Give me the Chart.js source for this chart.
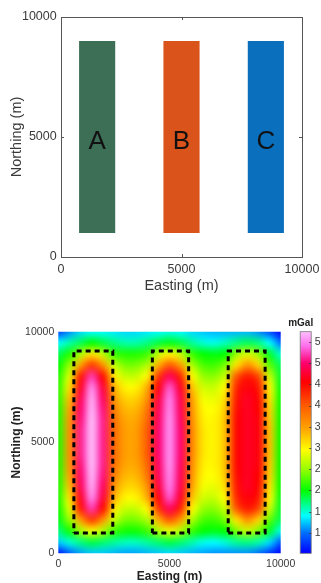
<!doctype html>
<html lang="en">

<head>
  <meta charset="utf-8">
  <title>Prism model and gravity anomaly</title>

  <!-- chart js -->
  <script src="https://cdn.jsdelivr.net/npm/chart.js@4.4.0/dist/chart.umd.min.js"></script>

  <style type="text/css">
    html,
    body {
      margin: 0;
      padding: 0;
      background: #fff;
      overflow: hidden;
    }

    .wrap {
      position: relative;
      width: 321px;
      height: 583px;
    }

    #modelChart {
      position: absolute;
      left: 0;
      top: 0;
    }

    #gravityChart {
      position: absolute;
      left: 0;
      top: 300px;
    }
  </style>

  <script>
    // axes
    const axisTicks = [0, 5000, 10000];

    // top panel: the three prisms (plan view)
    const prismNames = ['A', 'B', 'C'];
    const prismWest = [750, 4250, 7750];
    const prismEast = [2250, 5750, 9250];
    const prismSouth = [1000, 1000, 1000];
    const prismNorth = [9000, 9000, 9000];
    const prismColors = ['#3d6f57', '#d9531a', '#0a6fbd'];

    // bottom panel: dashed outlines
    const outlineWest = [700, 4230, 7640];
    const outlineEast = [2450, 5860, 9300];
    const outlineSouth = [920, 920, 920];
    const outlineNorth = [9130, 9130, 9130];

    // gravity grid (mGal), rows from north (10000) to south (0)
    const gridEasting = [0, 500, 1000, 1500, 2000, 2500, 3000, 3500, 4000, 4500, 5000,
      5500, 6000, 6500, 7000, 7500, 8000, 8500, 9000, 9500, 10000];
    const gridNorthing = [10000, 9500, 9000, 8500, 8000, 7500, 7000, 6500, 6000, 5500, 5000,
      4500, 4000, 3500, 3000, 2500, 2000, 1500, 1000, 500, 0];
    const mgal = [
      [8, 11, 13, 14, 14, 13.5, 13, 13, 13.5, 14, 14.5, 14, 13, 12.5, 12, 12, 12, 12, 11, 8.5, 5.5],
      [14, 16, 18, 20, 18.5, 17, 16, 16, 17, 18.5, 19.5, 18.5, 16.5, 15, 14.5, 15.5, 17, 18, 17, 14, 10],
      [18, 21, 26, 31, 27, 22, 21, 21, 22, 27, 30, 27, 22, 20, 19.5, 20, 25, 28, 25, 19, 15],
      [20, 25, 35, 42, 36, 27, 24, 24, 26, 34, 40, 35, 26, 22.5, 22, 24, 31, 36, 32, 23, 18],
      [21, 28, 44, 52, 45, 31, 27, 27, 30, 42, 49, 43, 30, 25, 24.5, 27, 40, 44, 41, 27, 19],
      [21.5, 31, 47, 55, 48, 34, 30, 30, 34, 46, 53, 47, 33, 27.5, 27, 30, 43, 46, 44, 30, 19.5],
      [21.5, 33, 49, 56.5, 49.5, 36, 32, 32, 36, 48, 54.5, 48.5, 35, 29, 28.5, 31.5, 44, 47, 45, 31, 20],
      [21, 34.5, 50, 57, 50.5, 37.5, 33.5, 33.5, 38, 49, 55, 49, 36, 30, 29.5, 32.5, 44.5, 47, 45.5, 32, 20],
      [21, 35.5, 50.5, 57.5, 51, 38.5, 34.5, 34.5, 39, 49.5, 55.5, 49.5, 36.5, 30.5, 30, 33, 45, 47, 46, 32.5, 20],
      [21, 36, 51, 57.5, 51, 39, 35, 35, 40, 50, 55.5, 50, 37, 31, 30, 33, 45, 47, 46, 33, 20],
      [21, 36, 51, 57.5, 51, 39, 35, 35, 40, 50, 55.5, 50, 37, 31, 30, 33, 45, 47, 46, 33, 20],
      [21, 36, 51, 57.5, 51, 39, 35, 35, 40, 50, 55.5, 50, 37, 31, 30, 33, 45, 47, 46, 33, 20],
      [21, 35.5, 50.5, 57.5, 51, 38.5, 34.5, 34.5, 39, 49.5, 55.5, 49.5, 36.5, 30.5, 30, 33, 45, 47, 46, 32.5, 20],
      [21, 34.5, 50, 57, 50.5, 37.5, 33.5, 33.5, 38, 49, 55, 49, 36, 30, 29.5, 32.5, 44.5, 47, 45.5, 32, 20],
      [21, 33, 49, 56.5, 49.5, 36, 32, 32, 36, 48, 54.5, 48.5, 35, 29, 28.5, 31.5, 44, 47, 45, 31, 20],
      [21, 31, 47, 55, 48, 34, 30, 30, 34, 46, 53, 47, 33, 27.5, 27, 30, 43, 46, 44, 30, 19.5],
      [20.5, 28, 44, 52, 45, 31, 27, 27, 30, 42, 49, 43, 30, 25, 24.5, 27, 40, 44, 41, 27, 19],
      [19.5, 25, 35, 42, 36, 27, 24, 24, 26, 34, 40, 35, 26, 22.5, 22, 24, 31, 36, 32, 23, 18],
      [17, 20.5, 25.5, 29, 26, 22, 20.5, 20.5, 22, 26, 28.5, 26, 22, 20, 19.5, 20, 24, 27, 24, 19, 14.5],
      [12.5, 15, 17, 18.5, 17.5, 16.5, 15.5, 15.5, 16.5, 17.5, 18.5, 17.5, 16, 14.5, 14, 15, 16.5, 17, 16, 13, 9],
      [6, 9.5, 11.5, 12.5, 12.5, 12, 11.5, 11.5, 12, 12.5, 13, 12.5, 12, 11.5, 11, 11, 11, 11, 10, 7.5, 5]
    ];

    // colour bar
    const cbTicks = [10, 15, 20, 25, 30, 35, 40, 45, 50, 55];
    const cbMin = 5.2;
    const cbMax = 57.4;
    const cmapStops = [5.2, 10, 14, 20, 25, 29.5, 34.5, 40, 45.5, 50, 54, 57.4];
    const cmapRGB = [[0, 0, 255], [0, 110, 255], [0, 255, 255], [0, 255, 0], [150, 255, 0], [255, 255, 0],
      [255, 165, 0], [255, 90, 0], [255, 0, 0], [255, 0, 110], [255, 110, 235], [255, 190, 255]];

    const tickColor = '#3a3a3a';
    Chart.defaults.font.family = '"Liberation Sans", Arial, sans-serif';

    function colourFor(v) {
      if (v <= cmapStops[0]) return cmapRGB[0];
      for (let i = 1; i < cmapStops.length; i++) {
        if (v <= cmapStops[i]) {
          const t = (v - cmapStops[i - 1]) / (cmapStops[i] - cmapStops[i - 1]);
          return cmapRGB[i].map((c, k) => Math.round(cmapRGB[i - 1][k] + (c - cmapRGB[i - 1][k]) * t));
        }
      }
      return cmapRGB[cmapRGB.length - 1];
    }

    function useTicks(list) {
      return function (scale) {
        scale.ticks = list.map(v => ({ value: v }));
      }
    }

    // fixed axis size, and no extra label padding pushed into the layout
    function fixSize(prop, size) {
      return function (scale) {
        scale[prop] = size;
        scale.paddingTop = 0;
        scale.paddingBottom = 0;
        scale.paddingLeft = 0;
        scale.paddingRight = 0;
      }
    }

    const plainLabel = v => String(v);

    // box and inward ticks round the top axes
    const axesBox = {
      id: 'axesBox',
      afterDraw(chart) {
        const { ctx, chartArea: a, scales: { x, y } } = chart;
        ctx.save();
        ctx.strokeStyle = '#555';
        ctx.lineWidth = 1;
        ctx.strokeRect(Math.round(a.left) + 0.5, Math.round(a.top) + 0.5,
          Math.round(a.right - a.left), Math.round(a.bottom - a.top));
        ctx.beginPath();
        axisTicks.forEach(v => {
          const px = Math.round(x.getPixelForValue(v)) + 0.5;
          const py = Math.round(y.getPixelForValue(v)) + 0.5;
          ctx.moveTo(px, a.top); ctx.lineTo(px, a.top + 3);
          ctx.moveTo(px, a.bottom); ctx.lineTo(px, a.bottom - 3);
          ctx.moveTo(a.left, py); ctx.lineTo(a.left + 3, py);
          ctx.moveTo(a.right, py); ctx.lineTo(a.right - 3, py);
        });
        ctx.stroke();
        ctx.restore();
      }
    };

    // letters in the prisms
    const prismLetters = {
      id: 'prismLetters',
      afterDatasetsDraw(chart) {
        const { ctx, scales: { y } } = chart;
        const meta = chart.getDatasetMeta(0);
        ctx.save();
        ctx.fillStyle = '#111';
        ctx.font = '26px "Liberation Sans", Arial, sans-serif';
        ctx.textAlign = 'center';
        ctx.textBaseline = 'middle';
        meta.data.forEach((bar, i) => {
          ctx.fillText(prismNames[i], bar.x, y.getPixelForValue((prismSouth[i] + prismNorth[i]) / 2) + 5);
        });
        ctx.restore();
      }
    };

    // gravity grid image, placed with the chart scales
    const heatLayer = {
      id: 'heatLayer',
      beforeDatasetsDraw(chart) {
        const { ctx, chartArea: a, scales: { x, y } } = chart;
        const cols = gridEasting.length;
        const rows = gridNorthing.length;
        const off = document.createElement('canvas');
        off.width = cols;
        off.height = rows;
        const octx = off.getContext('2d');
        const img = octx.createImageData(cols, rows);
        mgal.forEach((row, r) => {
          row.forEach((v, c) => {
            const rgb = colourFor(v);
            const k = (r * cols + c) * 4;
            img.data[k] = rgb[0];
            img.data[k + 1] = rgb[1];
            img.data[k + 2] = rgb[2];
            img.data[k + 3] = 255;
          });
        });
        octx.putImageData(img, 0, 0);

        const halfX = (gridEasting[1] - gridEasting[0]) / 2;
        const halfY = (gridNorthing[0] - gridNorthing[1]) / 2;
        const left = x.getPixelForValue(gridEasting[0] - halfX);
        const right = x.getPixelForValue(gridEasting[cols - 1] + halfX);
        const top = y.getPixelForValue(gridNorthing[0] + halfY);
        const bottom = y.getPixelForValue(gridNorthing[rows - 1] - halfY);

        ctx.save();
        ctx.beginPath();
        ctx.rect(a.left, a.top, a.right - a.left, a.bottom - a.top);
        ctx.clip();
        ctx.imageSmoothingEnabled = true;
        ctx.imageSmoothingQuality = 'high';
        ctx.drawImage(off, left, top, right - left, bottom - top);
        ctx.restore();
      },
      afterDraw(chart) {
        // colour bar next to the map
        const { ctx, chartArea: a, scales: { cb } } = chart;
        const barLeft = a.right + 19.5;
        const barWidth = 11;
        const yTop = cb.getPixelForValue(cbMax);
        const yBottom = cb.getPixelForValue(cbMin);
        const grad = ctx.createLinearGradient(0, yBottom, 0, yTop);
        cmapStops.forEach((v, i) => {
          const f = Math.min(1, Math.max(0, (v - cbMin) / (cbMax - cbMin)));
          grad.addColorStop(f, 'rgb(' + cmapRGB[i].join(',') + ')');
        });
        ctx.save();
        ctx.fillStyle = grad;
        ctx.fillRect(barLeft, yTop, barWidth, yBottom - yTop);
        ctx.strokeStyle = '#777';
        ctx.lineWidth = 0.8;
        ctx.strokeRect(barLeft, yTop, barWidth, yBottom - yTop);
        ctx.strokeStyle = '#333';
        ctx.beginPath();
        cbTicks.forEach(v => {
          const py = Math.round(cb.getPixelForValue(v)) + 0.5;
          ctx.moveTo(barLeft + barWidth, py);
          ctx.lineTo(barLeft + barWidth - 2, py);
        });
        ctx.stroke();
        ctx.fillStyle = '#222';
        ctx.font = 'bold 10px "Liberation Sans", Arial, sans-serif';
        ctx.textAlign = 'center';
        ctx.textBaseline = 'middle';
        ctx.fillText('mGal', barLeft + 0.5, yTop - 8.5);
        ctx.restore();
      }
    };

    window.addEventListener('load', function () {
      const spacing = (prismWest[1] + prismEast[1]) / 2 - (prismWest[0] + prismEast[0]) / 2;

      new Chart(document.getElementById('modelChart'), {
        type: 'bar',
        data: {
          datasets: [{
            data: prismNames.map((n, i) => ({
              x: (prismWest[i] + prismEast[i]) / 2,
              y: [prismSouth[i], prismNorth[i]]
            })),
            backgroundColor: prismColors,
            borderWidth: 0,
            borderSkipped: false,
            categoryPercentage: 1,
            barPercentage: (prismEast[0] - prismWest[0]) / spacing
          }]
        },
        options: {
          responsive: false,
          animation: false,
          layout: { padding: { top: 17, right: 19, bottom: 0, left: 0 } },
          plugins: { legend: { display: false }, tooltip: { enabled: false } },
          scales: {
            x: {
              type: 'linear', min: 0, max: 10000, offset: false,
              afterBuildTicks: useTicks(axisTicks),
              afterFit: fixSize('height', 43),
              grid: { display: false, drawTicks: false, offset: false },
              border: { display: false },
              ticks: { padding: 5.5, color: tickColor, font: { size: 12.5 }, maxRotation: 0, callback: plainLabel },
              title: { display: true, text: 'Easting (m)', color: tickColor, font: { size: 14.5 }, padding: { top: 0, bottom: 5 } }
            },
            y: {
              type: 'linear', min: 0, max: 10000,
              afterBuildTicks: useTicks(axisTicks),
              afterFit: fixSize('width', 61),
              grid: { display: false, drawTicks: false },
              border: { display: false },
              ticks: { padding: 4.3, color: tickColor, font: { size: 12.5 }, callback: plainLabel },
              title: { display: true, text: 'Northing (m)', color: tickColor, font: { size: 14.5 }, padding: { top: 8, bottom: 0 } }
            }
          }
        },
        plugins: [axesBox, prismLetters]
      });

      new Chart(document.getElementById('gravityChart'), {
        type: 'scatter',
        data: {
          datasets: outlineWest.map((w, i) => ({
            data: [
              { x: w, y: outlineSouth[i] },
              { x: outlineEast[i], y: outlineSouth[i] },
              { x: outlineEast[i], y: outlineNorth[i] },
              { x: w, y: outlineNorth[i] },
              { x: w, y: outlineSouth[i] }
            ],
            showLine: true,
            borderColor: '#000',
            borderWidth: 3,
            borderDash: [5, 4],
            pointRadius: 0,
            fill: false,
            tension: 0
          }))
        },
        options: {
          responsive: false,
          animation: false,
          layout: { padding: { top: 31.7, right: 0, bottom: 0, left: 0 } },
          plugins: { legend: { display: false }, tooltip: { enabled: false } },
          scales: {
            x: {
              type: 'linear', min: 0, max: 10000,
              afterBuildTicks: useTicks(axisTicks),
              afterFit: fixSize('height', 29.7),
              grid: { display: false, drawTicks: false },
              border: { display: false },
              ticks: { padding: 4.4, color: tickColor, font: { size: 10.5 }, maxRotation: 0, callback: plainLabel },
              title: { display: true, text: 'Easting (m)', color: '#222', font: { size: 12, weight: 'bold', lineHeight: 1 }, padding: { top: 0, bottom: 0 } }
            },
            y: {
              type: 'linear', min: 0, max: 10000,
              afterBuildTicks: useTicks(axisTicks),
              afterFit: fixSize('width', 58.3),
              grid: { display: false, drawTicks: false },
              border: { display: false },
              ticks: { padding: 4, color: tickColor, font: { size: 10.5 }, callback: plainLabel },
              title: { display: true, text: 'Northing (m)', color: '#222', font: { size: 12, weight: 'bold' }, padding: { top: 9.5, bottom: 0 } }
            },
            cb: {
              axis: 'y', type: 'linear', position: 'right', min: cbMin, max: cbMax,
              afterBuildTicks: useTicks(cbTicks),
              afterFit: fixSize('width', 40.3),
              grid: { display: false, drawTicks: false },
              border: { display: false },
              ticks: { padding: 34, color: tickColor, font: { size: 10.5 }, callback: plainLabel }
            }
          }
        },
        plugins: [heatLayer]
      });
    });
  </script>
</head>

<body>
  <div class="wrap">
    <canvas id="modelChart" width="321" height="300"></canvas>
    <canvas id="gravityChart" width="321" height="283"></canvas>
  </div>
</body>

</html>
